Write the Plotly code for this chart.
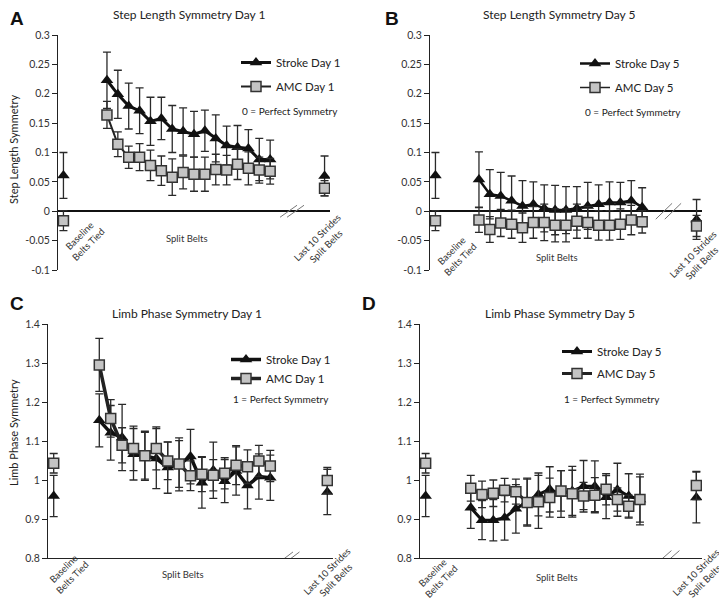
import plotly.graph_objects as go

# The page places the figure 8 px in from the top-left corner, so the figure is
# 8 px smaller and all reference-pixel positions are shifted by that offset.
OFF = 8
W, H = 727 - OFF, 604 - OFF
FONT = "Lato, sans-serif"

# ---------------- data ----------------
x_baseline = 0
x_split = list(range(4, 20))
x_last10 = 24
cat_labels = ["Baseline<br>Belts Tied", "Split Belts", "Last 10 Strides<br>Split Belts"]

# Step length symmetry, Day 1
sl_d1_stroke = [0.223, 0.199, 0.179, 0.171, 0.153, 0.158, 0.140, 0.136, 0.131, 0.137, 0.124, 0.112, 0.109, 0.107, 0.088, 0.088]
sl_d1_stroke_err = [0.048, 0.041, 0.039, 0.039, 0.041, 0.036, 0.040, 0.040, 0.039, 0.035, 0.040, 0.033, 0.037, 0.032, 0.036, 0.033]
sl_d1_amc = [0.164, 0.114, 0.092, 0.092, 0.078, 0.069, 0.058, 0.066, 0.063, 0.063, 0.071, 0.070, 0.080, 0.073, 0.070, 0.068]
sl_d1_amc_err = [0.023, 0.021, 0.019, 0.023, 0.026, 0.025, 0.031, 0.028, 0.029, 0.029, 0.026, 0.025, 0.026, 0.028, 0.022, 0.022]
sl_base_stroke, sl_base_stroke_err = 0.061, 0.039
sl_base_amc, sl_base_amc_err = -0.016, 0.017
sl_d1_last_stroke, sl_d1_last_stroke_err = 0.060, 0.034
sl_d1_last_amc, sl_d1_last_amc_err = 0.039, 0.013

# Step length symmetry, Day 5
sl_d5_stroke = [0.054, 0.029, 0.026, 0.018, 0.009, 0.012, 0.005, 0.002, 0.002, 0.005, 0.009, 0.012, 0.015, 0.015, 0.018, 0.007]
sl_d5_stroke_err = [0.047, 0.042, 0.040, 0.042, 0.043, 0.038, 0.040, 0.042, 0.040, 0.037, 0.040, 0.033, 0.035, 0.034, 0.034, 0.033]
sl_d5_amc = [-0.015, -0.031, -0.020, -0.022, -0.028, -0.019, -0.019, -0.024, -0.024, -0.017, -0.019, -0.024, -0.024, -0.022, -0.015, -0.018]
sl_d5_amc_err = [0.021, 0.022, 0.023, 0.024, 0.025, 0.027, 0.031, 0.028, 0.028, 0.029, 0.027, 0.025, 0.025, 0.026, 0.025, 0.019]
sl_d5_last_stroke, sl_d5_last_stroke_err = -0.014, 0.034
sl_d5_last_amc, sl_d5_last_amc_err = -0.025, 0.018

# Limb phase symmetry, Day 1
lp_d1_stroke = [1.153, 1.121, 1.109, 1.066, 1.062, 1.055, 1.032, 1.040, 1.060, 0.993, 1.025, 0.997, 1.023, 0.986, 1.009, 1.006]
lp_d1_stroke_err = [0.068, 0.070, 0.085, 0.066, 0.063, 0.077, 0.066, 0.068, 0.070, 0.065, 0.072, 0.055, 0.062, 0.060, 0.058, 0.058]
lp_d1_amc = [1.295, 1.158, 1.089, 1.081, 1.062, 1.081, 1.049, 1.041, 1.011, 1.015, 1.012, 1.017, 1.038, 1.034, 1.049, 1.036]
lp_d1_amc_err = [0.068, 0.048, 0.045, 0.057, 0.060, 0.055, 0.048, 0.060, 0.038, 0.045, 0.040, 0.040, 0.050, 0.043, 0.040, 0.040]
lp_base_stroke, lp_base_stroke_err = 0.959, 0.053
lp_base_amc, lp_base_amc_err = 1.043, 0.025
lp_d1_last_stroke, lp_d1_last_stroke_err = 0.969, 0.058
lp_d1_last_amc, lp_d1_last_amc_err = 0.999, 0.033

# Limb phase symmetry, Day 5
lp_d5_stroke = [0.929, 0.897, 0.897, 0.903, 0.926, 0.945, 0.963, 0.976, 0.964, 0.972, 0.984, 0.984, 0.956, 0.975, 0.959, 0.950]
lp_d5_stroke_err = [0.053, 0.050, 0.053, 0.057, 0.062, 0.060, 0.055, 0.058, 0.060, 0.063, 0.066, 0.065, 0.055, 0.068, 0.057, 0.058]
lp_d5_amc = [0.979, 0.963, 0.966, 0.974, 0.970, 0.942, 0.944, 0.955, 0.972, 0.965, 0.959, 0.961, 0.976, 0.950, 0.933, 0.950]
lp_d5_amc_err = [0.033, 0.034, 0.034, 0.030, 0.032, 0.060, 0.068, 0.050, 0.052, 0.060, 0.035, 0.045, 0.040, 0.030, 0.028, 0.065]
lp_d5_last_stroke, lp_d5_last_stroke_err = 0.955, 0.065
lp_d5_last_amc, lp_d5_last_amc_err = 0.986, 0.036

sl_ticks = [-0.1, -0.05, 0, 0.05, 0.1, 0.15, 0.2, 0.25, 0.3]
sl_ticktext = ["-0.1", "-0.05", "0", "0.05", "0.1", "0.15", "0.2", "0.25", "0.3"]
lp_ticks = [0.8, 0.9, 1.0, 1.1, 1.2, 1.3, 1.4]
lp_ticktext = ["0.8", "0.9", "1", "1.1", "1.2", "1.3", "1.4"]


def px(x):
    return (x - OFF) / W


def py(y):
    return 1 - (y - OFF) / H


panels = [
    dict(ax="", letter="A", title="Step Length Symmetry Day 1", day="Day 1",
         stroke=sl_d1_stroke, stroke_err=sl_d1_stroke_err, amc=sl_d1_amc, amc_err=sl_d1_amc_err,
         base=(sl_base_stroke, sl_base_stroke_err, sl_base_amc, sl_base_amc_err),
         last=(sl_d1_last_stroke, sl_d1_last_stroke_err, sl_d1_last_amc, sl_d1_last_amc_err),
         xdom=(58, 330), ydom=(35, 270), yr=[-0.1, 0.3], ticks=sl_ticks, ticktext=sl_ticktext,
         zero=True, letter_xy=(8.3, 18), title_xy=(189, 15), legend_xy=(236, 48), gap=5,
         note="0 = Perfect Symmetry", note_xy=(20.8, 0.1706),
         labpos=[(83, 240), (187, 238), (322, 242)],
         brk=[(20.69, 21.33), 0.0, 0.78, 0.0102], lw=(3, 2)),
    dict(ax="2", letter="B", title="Step Length Symmetry Day 5", day="Day 5",
         stroke=sl_d5_stroke, stroke_err=sl_d5_stroke_err, amc=sl_d5_amc, amc_err=sl_d5_amc_err,
         base=(sl_base_stroke, sl_base_stroke_err, sl_base_amc, sl_base_amc_err),
         last=(sl_d5_last_stroke, sl_d5_last_stroke_err, sl_d5_last_amc, sl_d5_last_amc_err),
         xdom=(430, 702), ydom=(35, 270), yr=[-0.1, 0.3], ticks=sl_ticks, ticktext=sl_ticktext,
         zero=True, letter_xy=(383, 18), title_xy=(559, 15), legend_xy=(575, 49), gap=5,
         note="0 = Perfect Symmetry", note_xy=(18.16, 0.169),
         labpos=[(455, 255), (557, 257), (697, 258)],
         brk=[(21.0, 21.83), 0.0, 0.75, 0.0135], lw=(2.5, 1.5)),
    dict(ax="3", letter="C", title="Limb Phase Symmetry Day 1", day="Day 1",
         stroke=lp_d1_stroke, stroke_err=lp_d1_stroke_err, amc=lp_d1_amc, amc_err=lp_d1_amc_err,
         base=(lp_base_stroke, lp_base_stroke_err, lp_base_amc, lp_base_amc_err),
         last=(lp_d1_last_stroke, lp_d1_last_stroke_err, lp_d1_last_amc, lp_d1_last_amc_err),
         xdom=(48, 333), ydom=(324, 558), yr=[0.8, 1.4], ticks=lp_ticks, ticktext=lp_ticktext,
         zero=False, letter_xy=(8.3, 304), title_xy=(187, 313), legend_xy=(226, 345), gap=0,
         note="1 = Perfect Symmetry", note_xy=(19.94, 1.208),
         labpos=[(67, 573), (183, 574), (331, 575)],
         brk=[(20.29, 20.86), 0.8, 0.7, 0.0155], lw=(3.5, 3.5)),
    dict(ax="4", letter="D", title="Limb Phase Symmetry Day 5", day="Day 5",
         stroke=lp_d5_stroke, stroke_err=lp_d5_stroke_err, amc=lp_d5_amc, amc_err=lp_d5_amc_err,
         base=(lp_base_stroke, lp_base_stroke_err, lp_base_amc, lp_base_amc_err),
         last=(lp_d5_last_stroke, lp_d5_last_stroke_err, lp_d5_last_amc, lp_d5_last_amc_err),
         xdom=(420, 702), ydom=(324, 558), yr=[0.8, 1.4], ticks=lp_ticks, ticktext=lp_ticktext,
         zero=False, letter_xy=(360, 304), title_xy=(560, 313), legend_xy=(557, 337), gap=3,
         note="1 = Perfect Symmetry", note_xy=(16.52, 1.208),
         labpos=[(436, 577), (557, 577), (700, 576)],
         brk=[(21.04, 21.75), 0.8, 0.75, 0.019], lw=(3, 3)),
]

fig = go.Figure()
annotations = []
shapes = []
layout = {}

ERR_COLOR = "#2a2a2a"
for i, p in enumerate(panels):
    ax = p["ax"]
    xa, ya = "x" + ax, "y" + ax
    leg = "legend" if i == 0 else "legend" + str(i + 1)

    def err(arr):
        return dict(type="data", array=arr, visible=True, color=ERR_COLOR, thickness=1.3, width=4)

    fig.add_trace(go.Scatter(
        x=x_split, y=p["stroke"], error_y=err(p["stroke_err"]), mode="lines+markers",
        line=dict(color="#111111", width=p["lw"][0]),
        marker=dict(symbol="triangle-up", size=11, color="#111111"),
        name="Stroke " + p["day"], legend=leg, legendgroup="s" + ax, xaxis=xa, yaxis=ya))
    fig.add_trace(go.Scatter(
        x=[x_baseline, x_last10], y=[p["base"][0], p["last"][0]],
        error_y=err([p["base"][1], p["last"][1]]), mode="markers",
        marker=dict(symbol="triangle-up", size=11, color="#111111"),
        showlegend=False, xaxis=xa, yaxis=ya))
    fig.add_trace(go.Scatter(
        x=x_split, y=p["amc"], error_y=err(p["amc_err"]), mode="lines+markers",
        line=dict(color="#222222", width=p["lw"][1]),
        marker=dict(symbol="square", size=10, color="#c4c4c4", line=dict(color="#333333", width=1.5)),
        name="AMC " + p["day"], legend=leg, legendgroup="a" + ax, xaxis=xa, yaxis=ya))
    fig.add_trace(go.Scatter(
        x=[x_baseline, x_last10], y=[p["base"][2], p["last"][2]],
        error_y=err([p["base"][3], p["last"][3]]), mode="markers",
        marker=dict(symbol="square", size=10, color="#c4c4c4", line=dict(color="#333333", width=1.5)),
        showlegend=False, xaxis=xa, yaxis=ya))

    layout["xaxis" + ax] = dict(
        domain=[px(p["xdom"][0]), px(p["xdom"][1])], range=[-0.5, 24.5], automargin=False,
        showticklabels=False, showgrid=False, zeroline=False, ticks="",
        showline=not p["zero"], linecolor="#222222", linewidth=1.2, anchor=ya)
    layout["yaxis" + ax] = dict(
        domain=[py(p["ydom"][1]), py(p["ydom"][0])], range=p["yr"], automargin=False,
        tickvals=p["ticks"], ticktext=p["ticktext"], showgrid=False,
        showline=True, linecolor="#222222", linewidth=1, ticks="outside", ticklen=5,
        tickcolor="#222222", tickfont=dict(size=10.5, color="#333333"),
        zeroline=p["zero"], zerolinecolor="#111111", zerolinewidth=1.5, anchor=xa)

    layout[leg] = dict(x=px(p["legend_xy"][0]), y=py(p["legend_xy"][1]), xanchor="left", yanchor="top",
                       bgcolor="rgba(0,0,0,0)", font=dict(size=11.5, color="#222222", family=FONT),
                       tracegroupgap=p["gap"], itemwidth=30)

    # panel letter and title
    annotations.append(dict(text="<b>" + p["letter"] + "</b>", x=px(p["letter_xy"][0]), y=py(p["letter_xy"][1]),
                            xref="paper", yref="paper", showarrow=False, xanchor="left", yanchor="middle",
                            font=dict(size=19, color="#111111", family="Liberation Sans, Arial, sans-serif")))
    annotations.append(dict(text=p["title"], x=px(p["title_xy"][0]), y=py(p["title_xy"][1]),
                            xref="paper", yref="paper", showarrow=False, xanchor="center", yanchor="middle",
                            font=dict(size=12, color="#222222", family=FONT)))
    annotations.append(dict(text=p["note"], x=p["note_xy"][0], y=p["note_xy"][1], xref=xa, yref=ya,
                            showarrow=False, xanchor="center", yanchor="middle",
                            font=dict(size=10, color="#222222", family=FONT)))
    for j, lab in enumerate(cat_labels):
        lx, ly = p["labpos"][j]
        annotations.append(dict(text=lab, x=px(lx), y=py(ly), xref="paper", yref="paper", showarrow=False,
                                textangle=0 if j == 1 else -45, align="center",
                                xanchor="center", yanchor="middle",
                                font=dict(size=9.5, color="#333333", family=FONT)))
    # axis break marks
    (bx1, bx2), by, bdx, bdy = p["brk"]
    for bx in (bx1, bx2):
        shapes.append(dict(type="line", xref=xa, yref=ya, x0=bx - bdx, x1=bx + bdx,
                           y0=by - bdy, y1=by + bdy, line=dict(color="#777777", width=1)))

annotations.append(dict(text="Step Length Symmetry", x=px(13), y=py(150), xref="paper", yref="paper",
                        showarrow=False, textangle=-90, xanchor="center", yanchor="middle",
                        font=dict(size=11, color="#222222", family=FONT)))
annotations.append(dict(text="Limb Phase Symmetry", x=px(13), y=py(433), xref="paper", yref="paper",
                        showarrow=False, textangle=-90, xanchor="center", yanchor="middle",
                        font=dict(size=11, color="#222222", family=FONT)))

fig.update_layout(
    width=W, height=H, margin=dict(l=0, r=0, t=0, b=0, pad=0), autosize=False,
    paper_bgcolor="white", plot_bgcolor="white",
    font=dict(family=FONT, color="#222222"),
    annotations=annotations, shapes=shapes, **layout)

fig.write_html("out.html")
